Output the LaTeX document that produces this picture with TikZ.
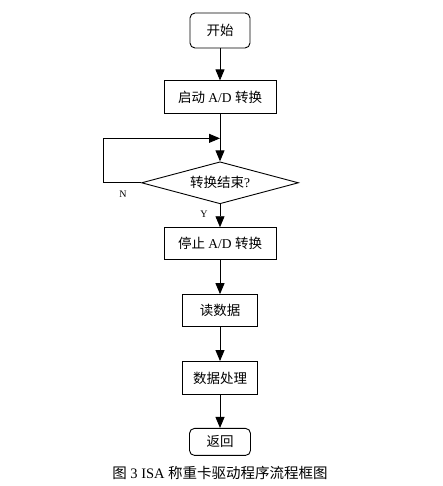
\documentclass[tikz,border=0pt]{standalone}
\usepackage{fontspec}
\setmainfont{Liberation Serif}
\newfontfamily\cjk{Noto Sans CJK SC}
\usetikzlibrary{arrows.meta}
\usetikzlibrary{positioning}
\usetikzlibrary{shapes.geometric}

\begin{document}
\begin{tikzpicture}[x=1pt,y=1pt,>={Triangle[length=11pt,width=9pt]},line width=0.9pt,
  every node/.style={font=\fontsize{13.5}{16}\selectfont},
  main node/.style={rectangle,draw,minimum height=33pt,inner sep=0pt},
  end node/.style={main node,rounded corners=5pt},
  test node/.style={diamond,draw,aspect=3.7,minimum width=157pt,minimum height=42pt,inner sep=0pt},
  mark label/.style={font=\fontsize{10}{12}\selectfont,inner sep=0pt}]

            \useasboundingbox (0,0) rectangle (443,-486);

            \node[end node,minimum width=60pt,minimum height=35pt] (start) at (220,-30.5) {\cjk 开始};
            \node[main node,minimum width=112pt] (adon) [below=32pt of start] {{\cjk 启动} A/D {\cjk 转换}};
            \node[test node] (done) [below=47pt of adon] {{\cjk 转换结束}?};
            \node[main node,minimum width=112pt,minimum height=32pt] (adoff) [below=23pt of done] {{\cjk 停止} A/D {\cjk 转换}};
            \node[main node,minimum width=75pt,minimum height=32pt] (read) [below=34pt of adoff] {\cjk 读数据};
            \node[main node,minimum width=75pt] (proc) [below=34pt of read] {\cjk 数据处理};
            \node[end node,minimum width=61pt,minimum height=27pt] (ret) [below=33pt of proc] {\cjk 返回};

            \coordinate[below=24pt of adon.south] (join);
            \coordinate (back) at ([xshift=-38pt]done.west);

            \path[->] (start) edge (adon)
                (adon) edge (done)
                (done) edge (adoff)
                (adoff) edge (read)
                (read) edge (proc)
                (proc) edge (ret);
            \draw[->] (done.west) -- (back) |- (join);

            \node[mark label] (nlab) [below left=8pt and 14pt of done.west] {N};
            \node[mark label] (ylab) [below left=6pt and 12pt of done.south] {Y};

            \node[font=\fontsize{14.5}{17}\selectfont] (caption) [below=7pt of ret] {{\cjk 图} 3 ISA {\cjk 称重卡驱动程序流程框图}};

        \end{tikzpicture}
\end{document}
